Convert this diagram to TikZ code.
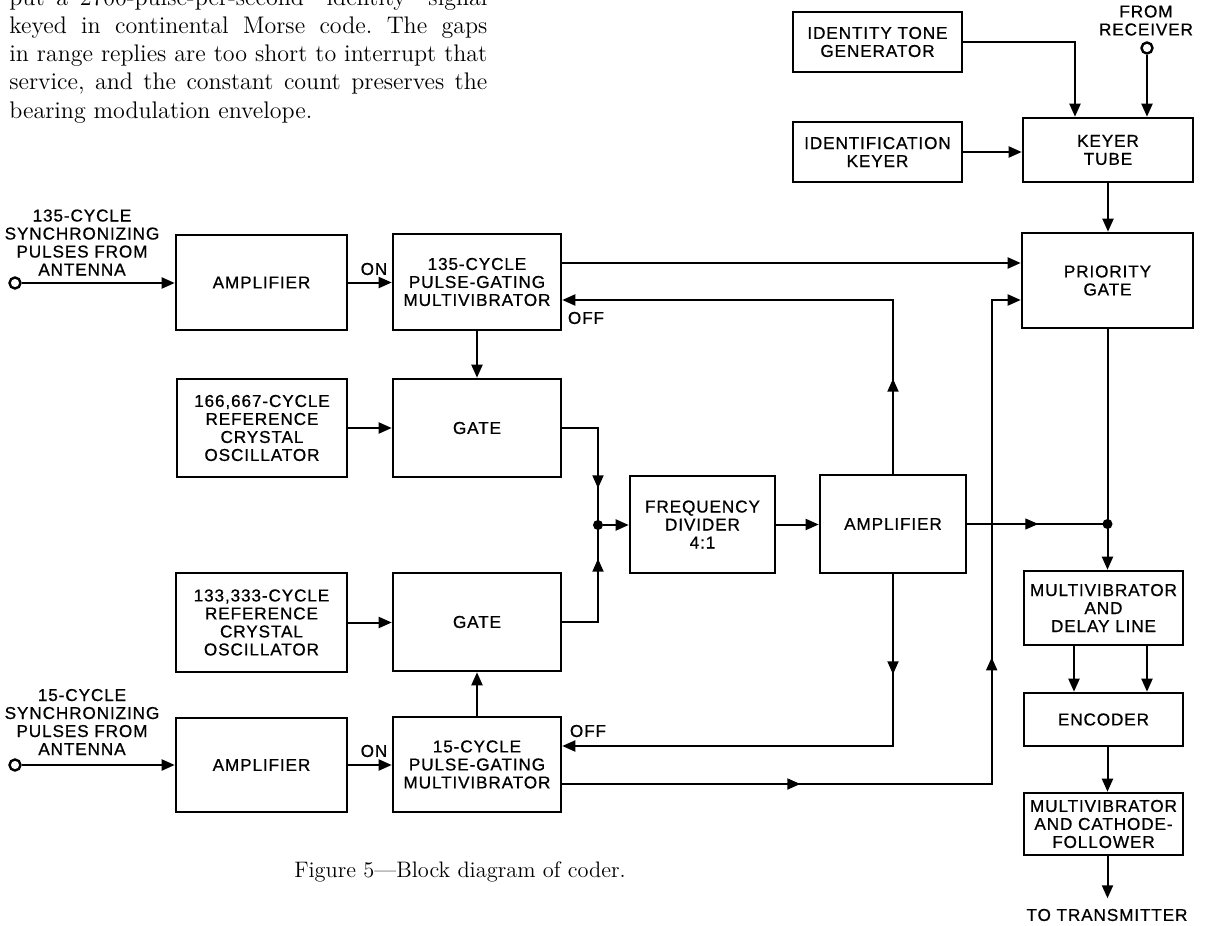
\documentclass[tikz,border=0pt]{standalone}
\usepackage{fontspec}
\usetikzlibrary{arrows.meta,decorations.markings}
\newfontfamily\lblfont{Liberation Sans}[LetterSpace=5.0,FakeBold=0.7]
\newcommand{\bodysize}{\fontsize{12}{14}\selectfont}
\frenchspacing
\begin{document}
\begin{tikzpicture}[x=0.5pt,y=-0.5pt,
  lbl/.style={inner sep=0pt,align=center,font=\lblfont\fontsize{8.6}{9}\selectfont},
  blk/.style={lbl,draw,line width=1.3pt},
  sz/.style 2 args={minimum width=#1*0.5pt,minimum height=#2*0.5pt},
  conn/.style={line width=1pt},
  tip/.style={-{Triangle[length=6.5pt,width=5.5pt]}},
  arr/.style={conn,tip},
  midarr/.style={postaction={decorate},decoration={markings,
     mark=at position #1 with {\arrow{Triangle[length=6.5pt,width=5.5pt]}}}},
  twomid/.style 2 args={postaction={decorate},decoration={markings,
     mark=at position #1 with {\arrow{Triangle[length=6.5pt,width=5.5pt]}},
     mark=at position #2 with {\arrow{Triangle[length=6.5pt,width=5.5pt]}}}},
  term/.style={circle,draw,line width=1.2pt,fill=white,minimum size=5.5pt,inner sep=0pt},
  dot/.style={circle,fill,minimum size=5pt,inner sep=0pt},
  body/.style={anchor=base west,inner sep=0pt,font=\bodysize},
]
\useasboundingbox (0,0) rectangle (1207,926);
\clip (0,0) rectangle (1207,926);

% running text of the page
\node[body] (p1) at (9,5)     {\makebox[239pt][s]{put a 2700-pulse-per-second “identity” signal}};
\node[body] (p2) at (9,33.3)  {\makebox[239pt][s]{keyed in continental Morse code. The gaps}};
\node[body] (p3) at (9,61.7)  {\makebox[239pt][s]{in range replies are too short to interrupt that}};
\node[body] (p4) at (9,90)    {\makebox[239pt][s]{service, and the constant count preserves the}};
\node[body] (p5) at (9,118.3) {bearing modulation envelope.};

% identity keying section
\node[blk,sz={169}{60}] (itg)   at (877.5,42)  {IDENTITY TONE\\GENERATOR};
\node[blk,sz={169}{60}] (idk)   at (877.5,152) {IDENTIFICATION\\KEYER};
\node[blk,sz={170}{64}] (keyer) at (1108,150)  {KEYER\\TUBE};
\node[term] (rx) at (1147,48) {};
\node[lbl] (rxl) at (1146,20.5) {FROM\\RECEIVER};
\node[blk,sz={171}{95}] (prio)  at (1107.5,280.5) {PRIORITY\\GATE};

% 135-cycle channel
\node[term] (in1) at (15,283) {};
\node[lbl] (in1l) at (82,242.5) {135-CYCLE\\SYNCHRONIZING\\PULSES FROM\\ANTENNA};
\node[blk,sz={171}{95}] (amp1)  at (261.5,282.5) {AMPLIFIER};
\node[blk,sz={168}{96}] (mv135) at (477,282) {135-CYCLE\\PULSE-GATING\\MULTIVIBRATOR};
\node[blk,sz={170}{98}] (osc1)  at (262,428) {166,667-CYCLE\\REFERENCE\\CRYSTAL\\OSCILLATOR};
\node[blk,sz={168}{98}] (gate1) at (477,428) {GATE};

% divider chain
\node[dot] (j1) at (598,525) {};
\node[blk,sz={145}{97}] (fdiv) at (702.5,524.5) {FREQUENCY\\DIVIDER\\4:1};
\node[blk,sz={146}{98}] (amp2) at (893,524) {AMPLIFIER};

% 15-cycle channel
\node[blk,sz={171}{99}] (osc2)  at (261.5,622.5) {133,333-CYCLE\\REFERENCE\\CRYSTAL\\OSCILLATOR};
\node[blk,sz={168}{98}] (gate2) at (477,622) {GATE};
\node[term] (in2) at (15,765) {};
\node[lbl] (in2l) at (82,722) {15-CYCLE\\SYNCHRONIZING\\PULSES FROM\\ANTENNA};
\node[blk,sz={171}{94}] (amp3) at (261.5,765) {AMPLIFIER};
\node[blk,sz={168}{95}] (mv15) at (477,764.5) {15-CYCLE\\PULSE-GATING\\MULTIVIBRATOR};

% output chain
\node[dot] (j2) at (prio.south |- amp2.east) {};
\node[blk,sz={159}{74}] (mvdl) at (1103.5,608)   {MULTIVIBRATOR\\AND\\DELAY LINE};
\node[blk,sz={159}{53}] (enc)  at (1103.5,719.5) {ENCODER};
\node[blk,sz={159}{62}] (mvcf) at (1103.5,824)   {MULTIVIBRATOR\\AND CATHODE-\\FOLLOWER};
\coordinate (out) at ([yshift=-21pt]j2 |- mvcf.south);
\node[lbl] (outl) at (1107,915) {TO TRANSMITTER};

% small labels
\node[lbl] (on1)  at (374,269) {ON};
\node[lbl] (on2)  at (374,751) {ON};
\node[lbl] (off1) at (586,318) {OFF};
\node[lbl] (off2) at (588,731) {OFF};

% caption
\node[inner sep=0pt,font=\fontsize{11.2}{13}\selectfont] (cap) at (460,872) {Figure 5—Block diagram of coder.};

% keyer connections
\draw[arr] (itg.east) -| ([xshift=-16.5pt]keyer.north);
\draw[arr] (rx) -- (rx |- keyer.north);
\draw[arr] (idk.east) -- (idk.east -| keyer.west);
\draw[arr] (keyer.south) -- (keyer.south |- prio.north);

% 135-cycle connections
\draw[arr] (in1) -- (in1 -| amp1.west);
\draw[arr] (amp1.east) -- (amp1.east -| mv135.west);
\draw[arr] ([yshift=9.5pt]mv135.east) -- ([yshift=9.5pt]mv135.east -| prio.west);
\draw[arr] (mv135.south) -- (mv135.south |- gate1.north);
\draw[arr] (osc1.east) -- (osc1.east -| gate1.west);
\draw[conn,midarr=48pt] (gate1.east) -| (j1.center);

% 15-cycle connections
\draw[arr] (in2) -- (in2 -| amp3.west);
\draw[arr] (amp3.east) -- (amp3.east -| mv15.west);
\draw[arr] (mv15.north) -- (mv15.north |- gate2.south);
\draw[arr] (osc2.east) -- (osc2.east -| gate2.west);
\draw[conn,midarr=49.5pt] (gate2.east) -| (j1.center);

% divider and amplifier
\draw[arr] (j1) -- (j1 -| fdiv.west);
\draw[arr] (fdiv.east) -- (fdiv.east -| amp2.west);

% OFF feedback to both multivibrators
\draw[arr,midarr=47.5pt] (amp2.north) |- ([yshift=-9pt]mv135.east);
\draw[arr,midarr=50pt] (amp2.south) |- ([yshift=9.25pt]mv15.east);

% 15-cycle gate to priority gate
\draw[arr,twomid={119pt}{278pt}] ([yshift=-9.75pt]mv15.east) -| ([xshift=-14.5pt,yshift=-9.75pt]prio.west) -- ([yshift=-9.75pt]prio.west);

% amplifier output to the coder chain
\draw[line width=0.6pt,midarr=35.5pt] (amp2.east) -- (j2.center);
\draw[arr] (prio.south) -- (prio.south |- mvdl.north);
\draw[arr] ([xshift=-14.75pt]mvdl.south) -- ([xshift=-14.75pt]mvdl.south |- enc.north);
\draw[arr] ([xshift=21.75pt]mvdl.south) -- ([xshift=21.75pt]mvdl.south |- enc.north);
\draw[arr] (j2 |- enc.south) -- (j2 |- mvcf.north);
\draw[arr] (j2 |- mvcf.south) -- (out);
\end{tikzpicture}
\end{document}
